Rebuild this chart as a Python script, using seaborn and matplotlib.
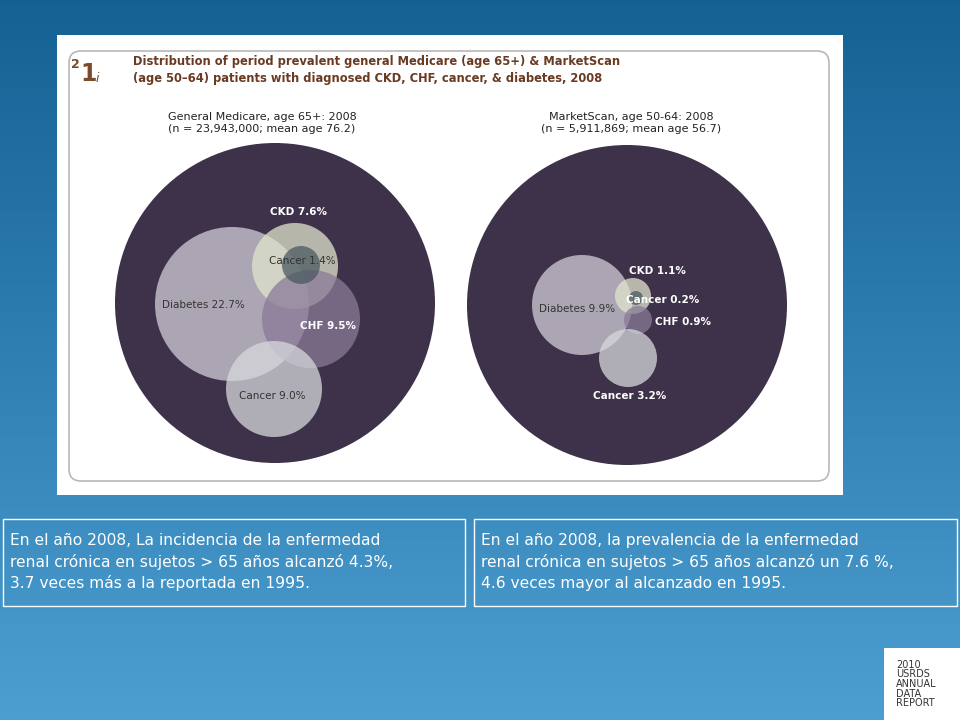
import numpy as np
import matplotlib
matplotlib.use("Agg")
import matplotlib.pyplot as plt
import seaborn as sns
from matplotlib.patches import Circle, Rectangle, FancyBboxPatch

sns.set_theme(style="white")

# data
panels = ["General Medicare, age 65+: 2008\n(n = 23,943,000; mean age 76.2)",
          "MarketScan, age 50-64: 2008\n(n = 5,911,869; mean age 56.7)"]
left_labels = ["Diabetes", "CKD", "CHF", "Cancer", "Cancer"]
left_pct = [22.7, 7.6, 9.5, 9.0, 1.4]
right_labels = ["Diabetes", "CKD", "Cancer", "CHF", "Cancer"]
right_pct = [9.9, 1.1, 0.2, 0.9, 3.2]

# layout geometry (pixels)
left_big = (275, 303, 160)
right_big = (627, 305, 160)
left_geom = [(232, 304, 77), (295, 266, 43), (311, 319, 49), (274, 389, 48), (301, 265, 19)]
right_geom = [(582, 305, 50), (633, 296, 18), (636, 298, 7), (638, 320, 14), (628, 358, 29)]
left_colors = ["#d2cdd8", "#e0e4cc", "#8a7a98", "#d6d8dc", "#4a5a60"]
right_colors = ["#d2cdd8", "#e0e4cc", "#4a5a60", "#8a7a98", "#d6d8dc"]
left_text = [(203, 305), (298, 212), (328, 326), (272, 396), (302, 261)]
right_text = [(577, 309), (657, 271), (663, 300), (683, 322), (630, 396)]
left_tc = ["#333", "white", "white", "#333", "#333"]
right_tc = ["#333", "white", "white", "white", "white"]

fig = plt.figure(figsize=(9.6, 7.2), dpi=100)
ax = fig.add_axes([0, 0, 1, 1])
ax.set_xlim(0, 960); ax.set_ylim(720, 0); ax.axis("off")

# background gradient
g = np.linspace(0, 1, 200)[:, None]
top = np.array([0.08, 0.38, 0.58]); bot = np.array([0.30, 0.62, 0.82])
img = top[None, None, :] * (1 - g[..., None]) + bot[None, None, :] * g[..., None]
img = np.repeat(img, 2, axis=1)
ax.imshow(img, extent=[0, 960, 720, 0], aspect="auto", zorder=0)

# white panel
ax.add_patch(Rectangle((57, 35), 786, 460, fc="white", ec="none", zorder=1))
ax.add_patch(FancyBboxPatch((69, 51), 760, 430, boxstyle="round,pad=0,rounding_size=12",
                            fc="white", ec="#b8b8b8", lw=1.2, zorder=1.5))
ax.text(71, 65, "2", fontsize=9, color="#7a4a2a", fontweight="bold", va="center", zorder=3)
ax.text(80, 74, "1", fontsize=17, color="#7a4a2a", fontweight="bold", va="center", zorder=3)
ax.text(96, 78, "i", fontsize=9, color="#7a4a2a", style="italic", va="center", zorder=3)
ax.text(133, 70, "Distribution of period prevalent general Medicare (age 65+) & MarketScan\n"
        "(age 50\u201364) patients with diagnosed CKD, CHF, cancer, & diabetes, 2008",
        fontsize=8.3, color="#6a3a22", fontweight="bold", va="center", linespacing=1.35, zorder=3)
for x, t in zip([262, 631], panels):
    ax.text(x, 123, t, fontsize=8, ha="center", va="center",
            color="#222", linespacing=1.3, zorder=3)

def draw(big, geom, cols, labels, pct, tpos, tcs):
    cx, cy, r = big
    ax.add_patch(Circle((cx, cy), r, fc="#3d3249", ec="none", zorder=2))
    for (x, y, rr), c in zip(geom, cols):
        ax.add_patch(Circle((x, y), rr, fc=c, ec="none", alpha=0.75, zorder=3))
    for (x, y), lab, p, tc in zip(tpos, labels, pct, tcs):
        ax.text(x, y, f"{lab} {p}%", fontsize=7.5, ha="center", va="center", color=tc,
                fontweight="bold" if tc == "white" else "normal", zorder=4)

draw(left_big, left_geom, left_colors, left_labels, left_pct, left_text, left_tc)
draw(right_big, right_geom, right_colors, right_labels, right_pct, right_text, right_tc)

# text boxes
texts = ["En el año 2008, La incidencia de la enfermedad\nrenal crónica en sujetos > 65 años alcanzó 4.3%,\n3.7 veces más a la reportada en 1995.",
         "En el año 2008, la prevalencia de la enfermedad\nrenal crónica en sujetos > 65 años alcanzó un 7.6 %,\n4.6 veces mayor al alcanzado en 1995."]
for (x0, w), t in zip([(3, 462), (474, 483)], texts):
    ax.add_patch(Rectangle((x0, 519), w, 87, fc="none", ec="white", lw=1, zorder=2))
    ax.text(x0 + 7, 562, t, fontsize=11.2, color="white", va="center", linespacing=1.45, zorder=3)

ax.add_patch(Rectangle((884, 648), 76, 72, fc="white", ec="none", zorder=2))
ax.text(896, 684, "2010\nUSRDS\nANNUAL\nDATA\nREPORT", fontsize=7, color="#333", va="center",
        linespacing=0.95, zorder=3)

fig.savefig("out.png", dpi=100)
